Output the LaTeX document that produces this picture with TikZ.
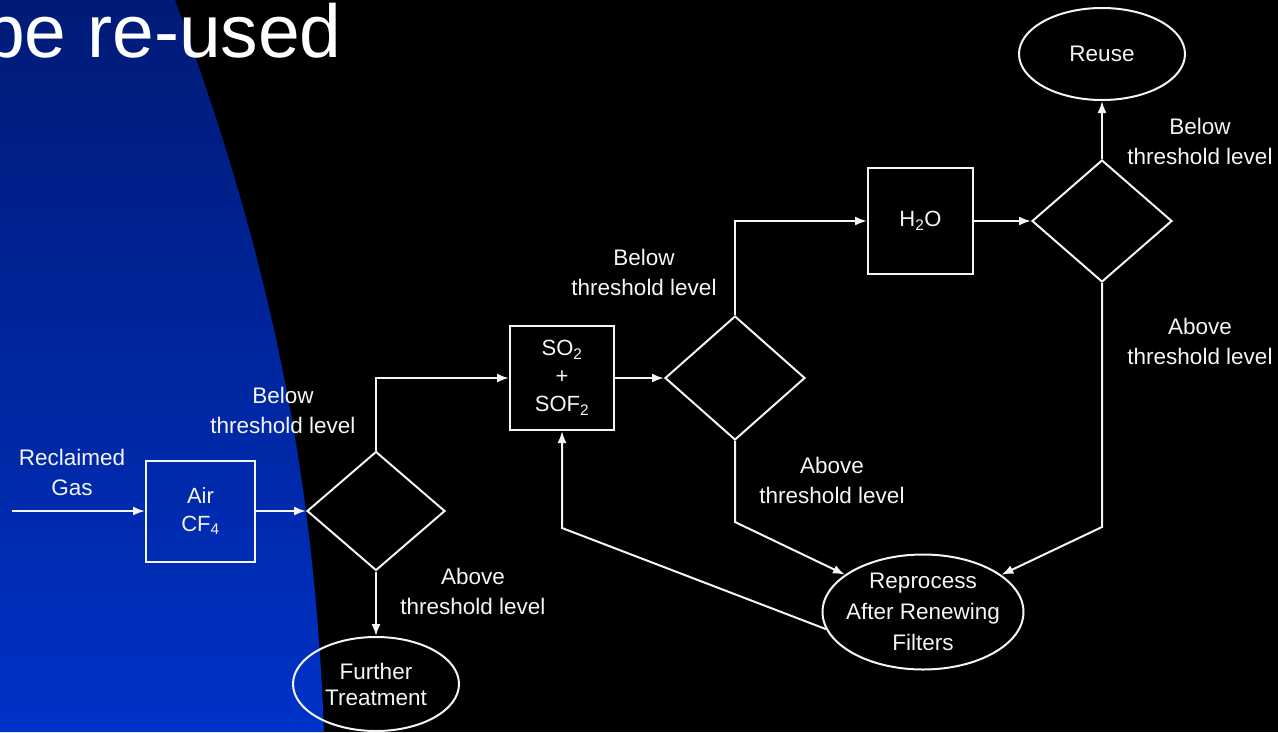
\documentclass[tikz,border=0pt]{standalone}
\usepackage{fontspec}
\setmainfont{Liberation Sans}
\usetikzlibrary{shapes.geometric,arrows.meta}
\definecolor{bluetop}{RGB}{0,26,118}
\definecolor{bluebot}{RGB}{0,50,200}
\definecolor{ink}{RGB}{245,245,245}
\newcommand{\lblfont}{\fontsize{22.5}{30}\selectfont}
\newcommand{\boxfont}{\fontsize{22}{28}\selectfont}
\newcommand{\ellfont}{\fontsize{22.5}{26}\selectfont}
\begin{document}
\begin{tikzpicture}[x=1pt,y=-1pt,
  flow/.style={draw=ink, line width=2pt},
  arr/.style={flow, -{Latex[length=12pt,width=9pt]}},
  procbox/.style={rectangle, draw=ink, line width=2pt, text=ink, align=center, font=\boxfont, inner sep=0pt},
  decision/.style={diamond, draw=ink, line width=2pt, inner sep=0pt},
  term/.style={ellipse, draw=ink, line width=2pt, inner sep=0pt},
  lbl/.style={text=ink, align=center, font=\lblfont, inner sep=0pt},
  elltext/.style={text=ink, align=center, font=\ellfont, inner sep=0pt}
]
\useasboundingbox (0,0) rectangle (1278,732);
\fill[black] (0,0) rectangle (1278,732);
\shade[top color=bluetop, bottom color=bluebot]
  (0,0) -- (175,0) .. controls (271,260) and (314,472) .. (324,732) -- (0,732) -- cycle;

\node[anchor=base west, inner sep=0pt, text=white, font=\fontsize{75}{75}\selectfont] (title) at (-17,57) {be re-used};

% nodes
\node[procbox, minimum width=109pt, minimum height=101pt] (air) at (200.5,511) {Air\\CF\textsubscript{4}};
\node[decision, minimum width=138pt, minimum height=119pt] (d1) at (376,511) {};
\node[term, minimum width=166pt, minimum height=94pt,
      label={[elltext]center:{Further\\Treatment}}] (further) at (376,684) {};
\node[procbox, minimum width=104pt, minimum height=104pt] (so2) at (562,378) {SO\textsubscript{2}\\+\\SOF\textsubscript{2}};
\node[decision, minimum width=140pt, minimum height=124pt] (d2) at (735,378) {};
\node[procbox, minimum width=105pt, minimum height=106pt] (h2o) at (920.5,221) {H\textsubscript{2}O};
\node[decision, minimum width=140pt, minimum height=122pt] (d3) at (1102,221) {};
\node[term, minimum width=166pt, minimum height=92pt,
      label={[elltext]center:{Reuse}}] (reuse) at (1102,54) {};
\node[term, minimum width=201pt, minimum height=115pt,
      label={[elltext, font=\fontsize{22.5}{31}\selectfont]center:{Reprocess\\After Renewing\\Filters}}] (reproc) at (923,612) {};

% labels
\node[lbl] (lgas) at (72,472) {Reclaimed\\Gas};
\node[lbl] (lb1) at (283,410) {Below\\threshold level};
\node[lbl] (la1) at (473,591) {Above\\threshold level};
\node[lbl] (lb2) at (644,272) {Below\\threshold level};
\node[lbl] (la2) at (832,480) {Above\\threshold level};
\node[lbl] (lb3) at (1200,141) {Below\\threshold level};
\node[lbl] (la3) at (1200,341) {Above\\threshold level};

% connector points
\coordinate (gasin) at (12,511);
\coordinate (c1) at (562,528);
\coordinate (c2) at (735,522);
\coordinate (c3) at (1102,527);

% connectors
\draw[arr] (gasin) -- (air.west);
\draw[arr] (air.east) -- (d1.west);
\draw[arr] (d1.south) -- (further.north);
\draw[arr] (d1.north) |- (so2.west);
\draw[arr] (so2.east) -- (d2.west);
\draw[arr] (d2.north) |- (h2o.west);
\draw[arr] (h2o.east) -- (d3.west);
\draw[arr] (d3.north) -- (reuse.south);
\draw[arr] (d3.south) -- (c3) -- (reproc);
\draw[arr] (d2.south) -- (c2) -- (reproc);
\draw[arr] (reproc.190) -- (c1) -- (so2.south);
\end{tikzpicture}
\end{document}
